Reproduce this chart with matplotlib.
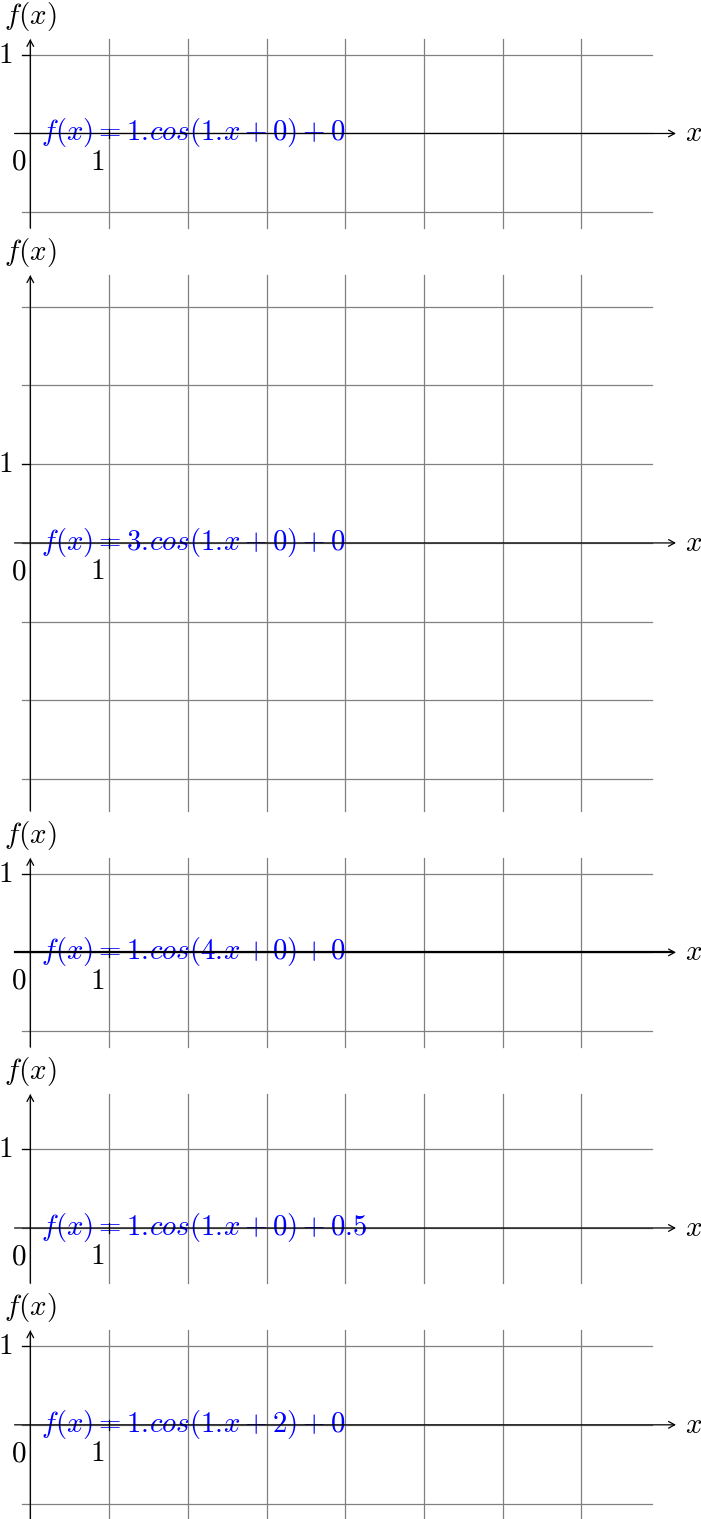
import numpy as np
import matplotlib
matplotlib.use('Agg')
import matplotlib.pyplot as plt
from matplotlib.patches import FancyArrowPatch

plt.rcParams['mathtext.fontset'] = 'cm'
plt.rcParams['font.family'] = 'DejaVu Serif'

# f(x) = a.cos(b.x + c) + d for each panel
amps = [1, 3, 1, 1, 1]
freqs = [1, 1, 4, 1, 1]
phases = [0, 0, 0, 0, 2]
shifts = [0, 0, 0, 0.5, 0]
# extent of the y axis in each panel
y_low = [-1.2, -3.4, -1.2, -0.7, -1.2]
y_high = [1.2, 3.4, 1.2, 1.7, 1.2]
x_grid = [0, 1, 2, 3, 4, 5, 6, 7]
x_tick_labels = ['0', '1']
y_tick_label = '1'

u = 200 / 2.54          # pixels per cm at 200 dpi
W, H = 701, 1519
grey = '#808080'
lw = 0.45

fig = plt.figure(figsize=(W / 200, H / 200), dpi=200)
ax = fig.add_axes([0, 0, 1, 1])
ax.set_xlim(-30.3 / u, (W - 30.3) / u)
ax.set_ylim(-H / u, 0)
ax.axis('off')


def arrow(x0, y0, x1, y1, width=lw):
    a = FancyArrowPatch((x0, y0), (x1, y1), arrowstyle='->,head_length=2.2,head_width=1.2',
                        mutation_scale=1, lw=width, color='black', zorder=4,
                        shrinkA=0, shrinkB=0)
    ax.add_patch(a)


def numfmt(v):
    return ('%g' % v)


def drawpanel(i, y0):
    lo, hi = y0 + y_low[i], y0 + y_high[i]
    a, b, c, d = amps[i], freqs[i], phases[i], shifts[i]
    # grid
    for gx in x_grid:
        ax.plot([gx, gx], [lo, hi], color=grey, lw=lw, zorder=1)
    for gy in range(int(np.ceil(d - a)), int(np.floor(d + a)) + 1):
        ax.plot([-0.1, 7.9], [y0 + gy, y0 + gy], color=grey, lw=lw, zorder=1)
    # axes (the x axis of the 4x panel comes out heavier in the original)
    if b == 4:
        ax.plot([-0.2, 8.15], [y0, y0], color='black', lw=0.8, zorder=4)
    arrow(-0.2, y0, 8.2, y0)
    arrow(0, lo, 0, hi)
    ax.text(8.42, y0, '$x$', fontsize=10.5, ha='center', va='center')
    ax.text(0, hi + 0.29, '$f(x)$', fontsize=10.5, ha='center', va='center')
    # ticks
    ax.plot([1, 1], [y0 - 0.06, y0 + 0.06], color='black', lw=lw, zorder=4)
    ax.plot([-0.1, 0], [y0 + 1, y0 + 1], color='black', lw=lw, zorder=4)
    for k, lab in enumerate(x_tick_labels):
        ax.text(k - 0.15, y0 - 0.36, '$%s$' % lab, fontsize=10.5, ha='center', va='center')
    ax.text(-0.32, y0 + 1, '$%s$' % y_tick_label, fontsize=10.5, ha='center', va='center')
    # \! cancels the space mathtext puts after a dot
    label = r'$f(x) = %s.\!cos(%s.\!x + %s) + %s$' % (numfmt(a), numfmt(b), numfmt(c), numfmt(d))
    ax.text(0.13, y0 + 0.01, label, fontsize=10.35, color='blue', ha='left', va='center', zorder=2)


cursor = -39.0 / u
for i in range(len(amps)):
    y0 = cursor - y_high[i]
    drawpanel(i, y0)
    cursor = y0 + y_low[i] - 0.6

plt.savefig('out.png', dpi=200)
